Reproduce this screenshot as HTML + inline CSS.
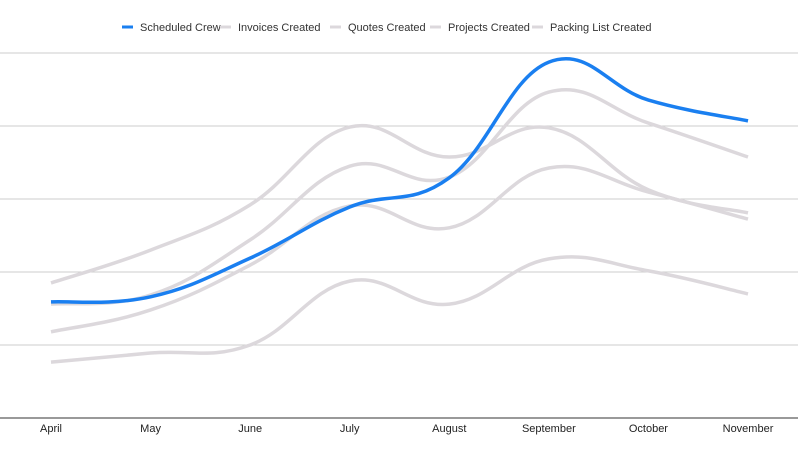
<!DOCTYPE html>
<html><head><meta charset="utf-8"><style>
body{margin:0;background:#fff;}
svg{display:block;font-family:"Liberation Sans",Arial,sans-serif;}
</style></head><body>
<svg id="chart" width="798" height="456"></svg>
<script>
const categories=["April","May","June","July","August","September","October","November"];
const scheduledCrew=[31.8,33.2,43.8,57.8,65.8,97.5,87.1,81.4];
const invoicesCreated=[37,46,58.4,79.7,71.5,79.5,62.5,56.2];
const quotesCreated=[31.2,33.7,48.8,69,66,89.3,80.8,71.5];
const projectsCreated=[23.6,29.6,41.9,58.1,52.1,68.5,61.9,54.5];
const packingListCreated=[15.3,17.8,20,37.5,31.2,43.6,40.3,34];
const gridValues=[20,40,60,80,100];
const seriesNames=["Scheduled Crew","Invoices Created","Quotes Created","Projects Created","Packing List Created"];

const NS="http://www.w3.org/2000/svg";
const svg=document.getElementById('chart');
const x0=51,x1=748,yBase=418,yTop=53,maxV=100;
function xs(i){return x0+(x1-x0)*i/(categories.length-1);}
function ys(v){return yBase-(yBase-yTop)*v/maxV;}
function mk(t,a){const e=document.createElementNS(NS,t);for(const k in a)e.setAttribute(k,a[k]);return e;}

gridValues.forEach(v=>{
  const l=mk('line',{x1:0,x2:798,y1:ys(v),y2:ys(v),stroke:'#cccccc','stroke-width':1});
  
  
  svg.appendChild(l);
});
const base=mk('line',{x1:0,x2:798,y1:yBase,y2:yBase,stroke:'#333','stroke-width':1});


svg.appendChild(base);

categories.forEach((c,i)=>{
  const t=mk('text',{x:xs(i),y:432,'text-anchor':'middle','font-size':11,fill:'#222'});
  t.textContent=c;
  
  
  svg.appendChild(t);
});

function pathFor(vals){
  const p=vals.map((v,i)=>[xs(i),ys(v)]);
  let d='M'+p[0][0]+','+p[0][1];
  for(let i=0;i<p.length-1;i++){
    const a=p[Math.max(0,i-1)],b=p[i],c=p[i+1],e=p[Math.min(p.length-1,i+2)];
    const k=0.2;
    const c1=[b[0]+(c[0]-a[0])*k,b[1]+(c[1]-a[1])*k];
    const c2=[c[0]-(e[0]-b[0])*k,c[1]-(e[1]-b[1])*k];
    d+=' C'+c1[0]+','+c1[1]+' '+c2[0]+','+c2[1]+' '+c[0]+','+c[1];
  }
  return d;
}
const grey=[invoicesCreated,quotesCreated,projectsCreated,packingListCreated];
const greyNames=['invoices-created-line','quotes-created-line','projects-created-line','packing-list-created-line'];
grey.forEach((s,i)=>{
  const p=mk('path',{d:pathFor(s),fill:'none',stroke:'#dcd8dc','stroke-width':3.5});
  
  
  svg.appendChild(p);
});
const bl=mk('path',{d:pathFor(scheduledCrew),fill:'none',stroke:'#1a7ff0','stroke-width':3.5});


svg.appendChild(bl);

const legX=[122,220,330,430,532];
seriesNames.forEach((n,i)=>{
  const g=mk('g',{});
  
  
  g.appendChild(mk('rect',{x:legX[i],y:25.5,width:11,height:3,fill:i===0?'#1a7ff0':'#dcd8dc'}));
  const t=mk('text',{x:legX[i]+18,y:31,'font-size':11,fill:'#333'});
  t.textContent=n;
  g.appendChild(t);
  svg.appendChild(g);
});
</script>
</body></html>
